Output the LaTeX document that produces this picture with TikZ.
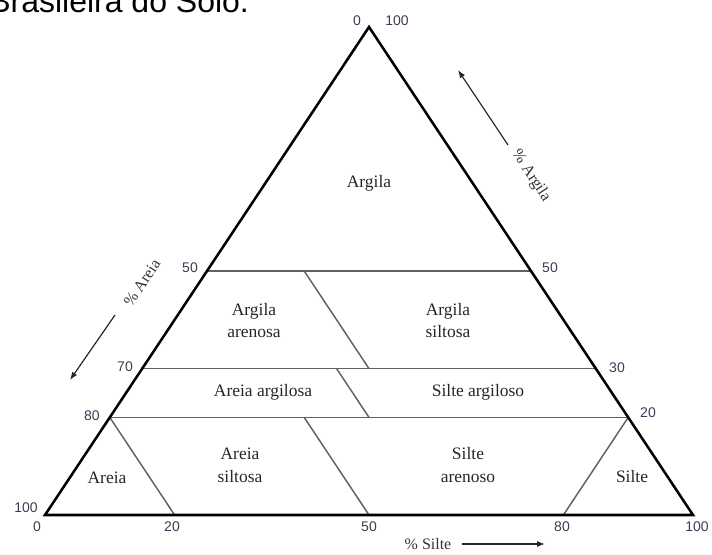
\documentclass[tikz,border=0pt]{standalone}
\usepackage{fontspec}
\setmainfont{Liberation Serif}
\newfontfamily\numfont{Liberation Sans}
\usetikzlibrary{arrows.meta}
\definecolor{tickcol}{RGB}{60,60,85}
\begin{document}
\begin{tikzpicture}[x=0.75pt,y=-0.75pt,
  outer/.style={line width=1.9pt, line join=miter, draw=black},
  inner/.style={line width=1.1pt, draw=black!62},
  region/.style={font=\fontsize{13.1}{17}\selectfont, text=black!85, align=center, inner sep=0pt},
  tick/.style={font=\numfont\fontsize{10.5}{12}\selectfont, text=tickcol, inner sep=0pt},
  axislabel/.style={font=\fontsize{12}{14}\selectfont, text=black!80, inner sep=0pt},
  axisarrow/.style={line width=0.9pt, draw=black!85, -{Latex[length=6pt,width=4.5pt]}}]
\useasboundingbox (0,0) rectangle (712,555);
\begin{scope}
  \clip (0,0) rectangle (712,555);
  \node[anchor=base west, font=\numfont\fontsize{24}{26}\selectfont, inner sep=0pt] (head) at (-11,13) {Brasileira do Solo.};
\end{scope}
% triangle corners and line ends
\coordinate (A) at (369,27);
\coordinate (L) at (45,515);
\coordinate (R) at (693,515);
\coordinate (L50) at (207,271);
\coordinate (R50) at (531,271);
\coordinate (L30) at (142.2,368.6);
\coordinate (R30) at (595.8,368.6);
\coordinate (L20) at (109.8,417.4);
\coordinate (R20) at (628.2,417.4);
\coordinate (D1a) at (304.2,271);
\coordinate (D1b) at (369,368.6);
\coordinate (D2a) at (336.6,368.6);
\coordinate (D2b) at (369,417.4);
\coordinate (D3a) at (304.2,417.4);
\coordinate (B50) at (369,515);
\coordinate (B20) at (174.6,515);
\coordinate (B80) at (563.4,515);
% inner lines
\draw[inner] (L50) -- (R50);
\draw[inner] (L30) -- (R30);
\draw[inner] (L20) -- (R20);
\draw[inner] (D1a) -- (D1b);
\draw[inner] (D2a) -- (D2b);
\draw[inner] (D3a) -- (B50);
\draw[inner] (L20) -- (B20);
\draw[inner] (R20) -- (B80);
% outer triangle
\draw[outer] (A) -- (L) -- (R) -- cycle;
% tick labels
\node[tick] (tA0) at (357,21) {0};
\node[tick] (tA100) at (397,21) {100};
\node[tick] (tl50) at (190,268) {50};
\node[tick] (tl70) at (125,367) {70};
\node[tick] (tl80) at (92,416) {80};
\node[tick] (tl100) at (26,508) {100};
\node[tick] (tb0) at (37,527) {0};
\node[tick] (tb20) at (172,527) {20};
\node[tick] (tb50) at (369,527) {50};
\node[tick] (tb80) at (562,527) {80};
\node[tick] (tb100) at (697,527) {100};
\node[tick] (tr50) at (550,268) {50};
\node[tick] (tr30) at (617,368) {30};
\node[tick] (tr20) at (648,413) {20};
% region labels
\node[region] (argila) at (369,183) {Argila};
\node[region] (argare) at (254,320.5) {Argila\\arenosa};
\node[region] (argsil) at (448,320.5) {Argila\\siltosa};
\node[region] (arearg) at (263,392) {Areia argilosa};
\node[region] (silarg) at (478,392) {Silte argiloso};
\node[region] (areia) at (107,478) {Areia};
\node[region] (aresil) at (240,465) {Areia\\siltosa};
\node[region] (silare) at (468,465) {Silte\\arenoso};
\node[region] (silte) at (632,477) {Silte};
% axis labels and arrows
\node[axislabel] (xsilte) at (428,544) {\% Silte};
\coordinate (sa1) at (462,544);
\coordinate (sa2) at (545,544);
\draw[axisarrow] (sa1) -- (sa2);
\node[axislabel, rotate=-56.4] (xargila) at (531,176) {\% Argila};
\coordinate (ga1) at (508,145);
\coordinate (ga2) at (458,70);
\draw[axisarrow] (ga1) -- (ga2);
\node[axislabel, rotate=56.4] (xareia) at (142,283) {\% Areia};
\coordinate (ra1) at (115,315);
\coordinate (ra2) at (70,380);
\draw[axisarrow] (ra1) -- (ra2);
\end{tikzpicture}
\end{document}
